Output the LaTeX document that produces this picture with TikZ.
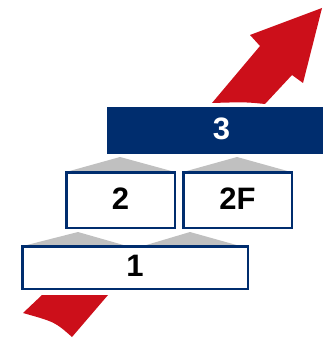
\documentclass[tikz,border=0pt]{standalone}
\usepackage{fontspec}
\setmainfont{Liberation Sans}
\definecolor{stepblue}{RGB}{0,45,110}
\definecolor{stepred}{RGB}{204,15,26}
\definecolor{stepgrey}{RGB}{192,192,192}
\tikzset{
  stepbox/.style={draw=stepblue, line width=2.5pt, fill=white, inner sep=0pt,
    text height=18pt, text depth=0pt, font=\fontsize{31}{34}\selectfont\bfseries},
  topbox/.style={fill=stepblue, text=white, inner sep=0pt,
    text height=18pt, text depth=0pt, font=\fontsize{31}{34}\selectfont\bfseries}
}
\begin{document}
\begin{tikzpicture}[x=1pt,y=-1pt]
        \useasboundingbox (0,0) rectangle (322,339);
        \fill[stepred](212,103)--(260,46)--(250,35)--(322,8)--(303,83)--(292,75)--(265,104)..controls(245,102)..(212,103)--cycle;
        \fill[stepred](23,313)--(42,295)--(108,295)--(72,337)..controls(55,322)..(23,313)--cycle;
        \fill[stepgrey](66,172)--(120,157)--(175,172)--cycle;
        \fill[stepgrey](183,172)--(237,157)--(291,172)--cycle;
        \fill[stepgrey](23,246)--(78,232)--(127,246)--cycle;
        \fill[stepgrey](143,246)--(190,232)--(240,246)--cycle;
        \node[topbox, minimum width=229pt, minimum height=47pt](three)at(221.5,130.5){3};
        \node[stepbox, minimum width=108.5pt, minimum height=55.5pt](two)at(120.5,200){2};
        \node[stepbox, minimum width=108.5pt, minimum height=55.5pt](twof)at(237.5,200){2F};
        \node[stepbox, minimum width=225.5pt, minimum height=42.5pt](one)at(135,267.5){1};
    \end{tikzpicture}
\end{document}
